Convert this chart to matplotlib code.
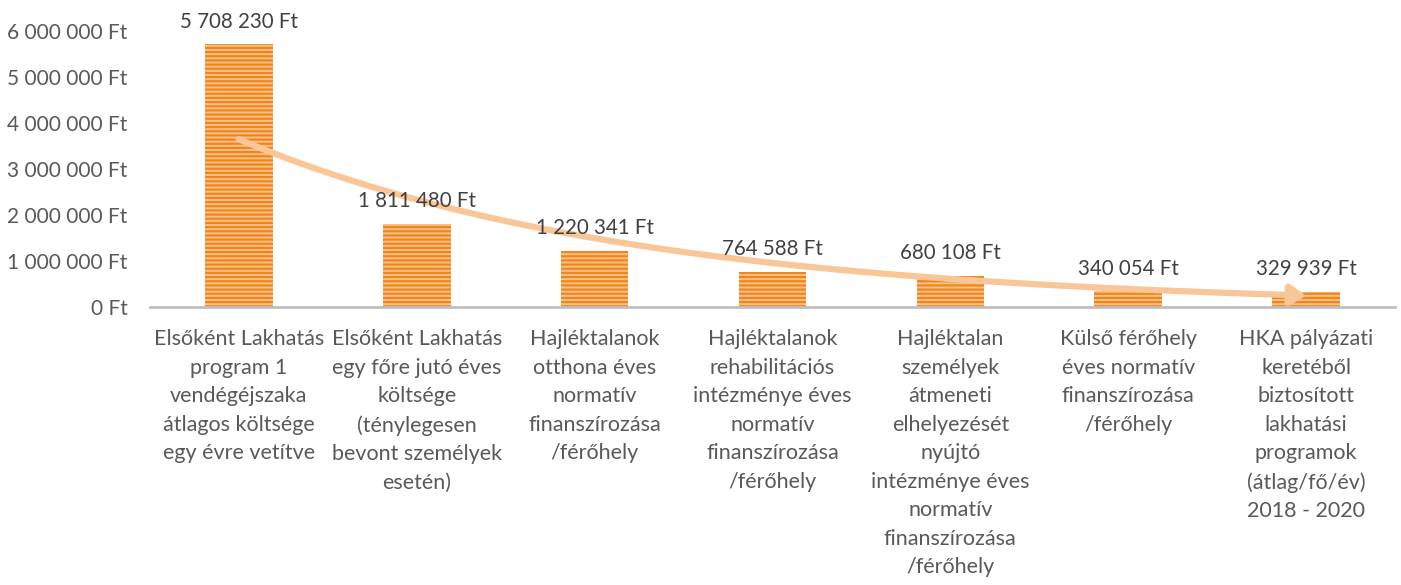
import numpy as np
from matplotlib import pyplot as plt
from matplotlib.patches import FancyArrowPatch
from matplotlib.path import Path
from matplotlib.ticker import FuncFormatter

plt.rcParams['font.family'] = ['Lato', 'DejaVu Sans']
plt.rcParams['hatch.linewidth'] = 1.6

categories = [
    "Elsőként Lakhatás\nprogram 1\nvendégéjszaka\nátlagos költsége\negy évre vetítve",
    "Elsőként Lakhatás\negy főre jutó éves\nköltsége\n(ténylegesen\nbevont személyek\nesetén)",
    "Hajléktalanok\notthona éves\nnormatív\nfinanszírozása\n/férőhely",
    "Hajléktalanok\nrehabilitációs\nintézménye éves\nnormatív\nfinanszírozása\n/férőhely",
    "Hajléktalan\nszemélyek\nátmeneti\nelhelyezését\nnyújtó\nintézménye éves\nnormatív\nfinanszírozása\n/férőhely",
    "Külső férőhely\néves normatív\nfinanszírozása\n/férőhely",
    "HKA pályázati\nkeretéből\nbiztosított\nlakhatási\nprogramok\n(átlag/fő/év)\n2018 - 2020",
]
values = [5708230, 1811480, 1220341, 764588, 680108, 340054, 329939]


def ft(v, pos=None):
    return "{:,.0f} Ft".format(v).replace(",", " ")


fig = plt.figure(figsize=(14.01, 5.85), dpi=100)
ax = fig.add_axes([0.107, 0.4752, 0.8887, 0.4718])

x = np.arange(len(values))
bars = ax.bar(x, values, width=0.38, color="#F9C08A", edgecolor="#F0861A",
              linewidth=0, hatch="----", zorder=2)

for xi, v in zip(x, values):
    ax.annotate(ft(v), (xi, v), xytext=(0, 9), textcoords="offset points",
                ha="center", va="bottom", fontsize=14.8, color="#404040", zorder=5)

# exponenciális trendvonal, mint az Excelben
b, a = np.polyfit(x + 1, np.log(values), 1)
xs = np.linspace(x[0], x[-1], 200)
ys = np.exp(a + b * (xs + 1))
trend = FancyArrowPatch(path=Path(np.column_stack([xs, ys])), arrowstyle="-|>,head_length=6,head_width=4",
                        color="#F9C797", linewidth=4.5, zorder=3, mutation_scale=1.5)
ax.add_patch(trend)

ax.set_xlim(-0.5, len(values) - 0.5)
ax.set_ylim(0, 6000000)
ax.set_yticks(np.arange(0, 6000001, 1000000))
ax.yaxis.set_major_formatter(FuncFormatter(ft))
ax.set_xticks(x)
ax.set_xticklabels(categories, fontsize=15.5, color="#595959", linespacing=1.53)
ax.tick_params(axis="y", labelsize=15, labelcolor="#595959", length=0, pad=16)
ax.tick_params(axis="x", length=0, pad=16)

for side in ["top", "right", "left"]:
    ax.spines[side].set_visible(False)
ax.spines["bottom"].set_color("#BFBFBF")
ax.spines["bottom"].set_linewidth(2)
ax.spines["bottom"].set_zorder(4)

fig.savefig("out.png", dpi=100)
